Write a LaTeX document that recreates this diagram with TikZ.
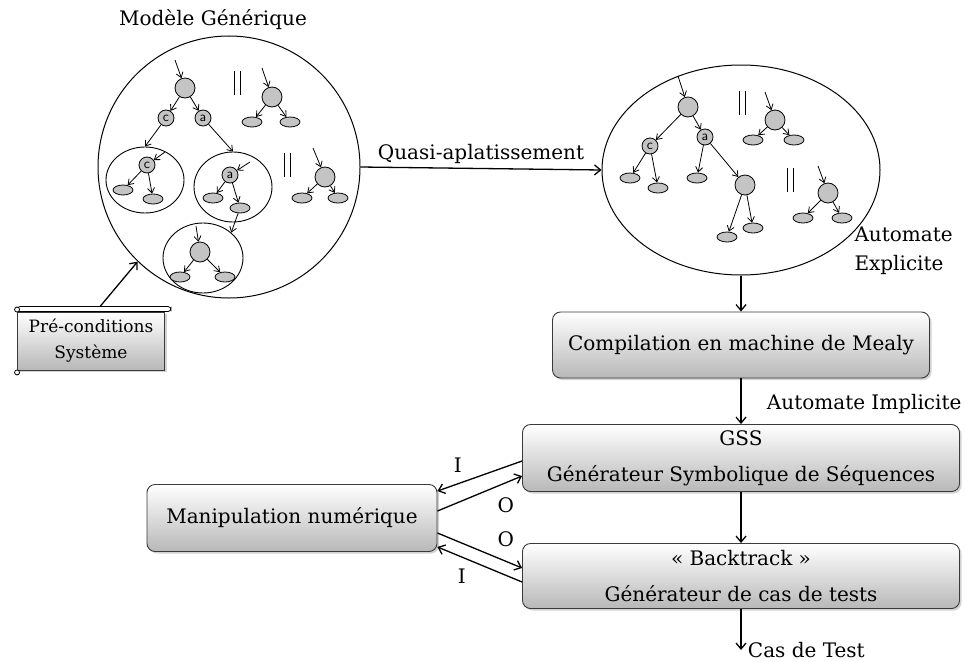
\documentclass[tikz,border=0pt]{standalone}
\usepackage{fontspec}
\setmainfont{DejaVu Serif}
\usetikzlibrary{arrows.meta, shapes.geometric, shadows, positioning}
\definecolor{StateGrey}{HTML}{C4C4C4}
\definecolor{BoxEdge}{HTML}{3A3A3A}
\definecolor{BoxLow}{HTML}{B8B8B8}
\tikzset{
  state/.style={
    circle, draw, line width=0.8pt, fill=StateGrey,
    inner sep=0pt, minimum size=20
  },
  letter/.style={
    circle, draw, line width=0.8pt, fill=StateGrey,
    inner sep=0pt, minimum size=16,
    font=\sffamily\fontsize{14}{14}\selectfont
  },
  leaf/.style={
    ellipse, draw, line width=0.8pt, fill=StateGrey,
    inner sep=0pt, minimum width=20, minimum height=10
  },
  sub/.style={
    ellipse, draw, line width=0.9pt, inner sep=0pt
  },
  tarrow/.style={
    line width=0.8pt, -{Straight Barb[length=5pt,width=7pt]}
  },
  flow/.style={
    line width=1.3pt, -{Straight Barb[length=6pt,width=10pt]}
  },
  stepbox/.style={
    rectangle, rounded corners=8pt, draw=BoxEdge, line width=0.9pt,
    top color=white, bottom color=BoxLow,
    drop shadow={opacity=0.35, shadow xshift=2pt, shadow yshift=-2pt},
    align=center, font=\fontsize{20}{36}\selectfont
  },
  label/.style={
    font=\fontsize{20}{29}\selectfont
  },
  par bars/.pic={
    \draw[line width=0.9pt] (-3,-12) -- (-3,12) (3,-12) -- (3,12);
  },
}

\begin{document}
\begin{tikzpicture}[x=1pt, y=-1pt]
  \useasboundingbox (0,0) rectangle (965,661);
  % generic model
  \node[circle, draw, line width=1pt, minimum size=262] (gen) at (229,167) {};
  \node[label] (gentitle) at (213,20) {Modèle Générique};
  \node[state] (g1) at (185,88) {};
  \coordinate (g1in) at (175,60);
  \node[letter] (gc) at (166,118) {c};
  \node[letter] (ga) at (203,118) {a};
  \draw[tarrow] (g1in) -- (g1);
  \draw[tarrow] (g1) -- (gc);
  \draw[tarrow] (g1) -- (ga);
  \pic at (237,83) {par bars};
  \node[state] (g2) at (272,97) {};
  \coordinate (g2in) at (262,68);
  \node[leaf] (g2l) at (252,122) {};
  \node[leaf] (g2r) at (290,122) {};
  \draw[tarrow] (g2in) -- (g2);
  \draw[tarrow] (g2) -- (g2l);
  \draw[tarrow] (g2) -- (g2r);
  % sub-model c
  \node[sub, minimum width=78, minimum height=66] (s1) at (145,180) {};
  \node[letter] (s1c) at (147,165) {c};
  \coordinate (s1in) at (165,152);
  \node[leaf] (s1l) at (123,190) {};
  \node[leaf] (s1r) at (153,199) {};
  \draw[tarrow] (gc) -- (s1.north);
  \draw[tarrow] (s1in) -- (s1c);
  \draw[tarrow] (s1c) -- (s1l);
  \draw[tarrow] (s1c) -- (s1r);
  % sub-model a
  \node[sub, minimum width=78, minimum height=70] (s2) at (233,187) {};
  \node[letter] (s2a) at (230,175) {a};
  \coordinate (s2in) at (250,162);
  \node[leaf] (s2l) at (213,198) {};
  \node[leaf] (s2r) at (240,208) {};
  \draw[tarrow] (ga) -- (s2.north);
  \draw[tarrow] (s2in) -- (s2a);
  \draw[tarrow] (s2a) -- (s2l);
  \draw[tarrow] (s2a) -- (s2r);
  % nested sub-model
  \node[sub, minimum width=80, minimum height=70] (s3) at (203,258) {};
  \node[state] (s3n) at (200,252) {};
  \coordinate (s3in) at (196,226);
  \node[leaf] (s3l) at (180,277) {};
  \node[leaf] (s3r) at (225,277) {};
  \draw[tarrow] (s2r) -- (s3.42);
  \draw[tarrow] (s3in) -- (s3n);
  \draw[tarrow] (s3n) -- (s3l);
  \draw[tarrow] (s3n) -- (s3r);
  \pic at (287,165) {par bars};
  \node[state] (g3) at (325,177) {};
  \coordinate (g3in) at (313,148);
  \node[leaf] (g3l) at (302,198) {};
  \node[leaf] (g3r) at (338,198) {};
  \draw[tarrow] (g3in) -- (g3);
  \draw[tarrow] (g3) -- (g3l);
  \draw[tarrow] (g3) -- (g3r);

  % explicit automaton
  \node[ellipse, draw, line width=1pt, minimum width=278, minimum height=210] (expl) at (741,170) {};
  \node[state] (r1) at (688,107) {};
  \coordinate (r1in) at (678,76);
  \node[letter] (rc) at (650,146) {c};
  \node[letter] (ra) at (705,137) {a};
  \node[leaf] (rcl) at (630,178) {};
  \node[leaf] (rcr) at (658,188) {};
  \node[leaf] (ral) at (697,178) {};
  \node[state] (rb) at (745,185) {};
  \node[leaf] (rbl) at (727,237) {};
  \node[leaf] (rbr) at (753,228) {};
  \draw[tarrow] (r1in) -- (r1);
  \draw[tarrow] (r1) -- (rc);
  \draw[tarrow] (r1) -- (ra);
  \draw[tarrow] (rc) -- (rcl);
  \draw[tarrow] (rc) -- (rcr);
  \draw[tarrow] (ra) -- (ral);
  \draw[tarrow] (ra) -- (rb);
  \draw[tarrow] (rb) -- (rbl);
  \draw[tarrow] (rb) -- (rbr);
  \pic at (742,103) {par bars};
  \node[state] (r2) at (775,120) {};
  \coordinate (r2in) at (765,92);
  \node[leaf] (r2l) at (753,140) {};
  \node[leaf] (r2r) at (794,140) {};
  \draw[tarrow] (r2in) -- (r2);
  \draw[tarrow] (r2) -- (r2l);
  \draw[tarrow] (r2) -- (r2r);
  \pic at (790,180) {par bars};
  \node[state] (r3) at (828,193) {};
  \coordinate (r3in) at (818,166);
  \node[leaf] (r3l) at (803,218) {};
  \node[leaf] (r3r) at (842,218) {};
  \draw[tarrow] (r3in) -- (r3);
  \draw[tarrow] (r3) -- (r3l);
  \draw[tarrow] (r3) -- (r3r);

  \draw[flow] (gen.east) -- node[label, above=1pt] {Quasi-aplatissement} (expl.west);
  \node[label, anchor=west, align=left] (explname) at (851,251) {Automate\\Explicite};

  % pre-conditions scroll
  \node[stepbox, rounded corners=0pt, minimum width=147, minimum height=58,
        font=\fontsize{17}{26}\selectfont] (precond) at (91,341) {Pré-conditions\\Système};
  \draw[line width=0.8pt, fill=white, rounded corners=3pt] ([yshift=5pt]precond.north west) rectangle ([xshift=6pt]precond.north east);
  \draw[line width=0.8pt, fill=white] ([yshift=2pt]precond.north west) circle (2.5pt);
  \draw[line width=0.8pt, fill=white] ([yshift=-2pt]precond.south west) circle (2.5pt);
  \draw[flow] ([xshift=9pt, yshift=5pt]precond.north) -- (gen.226);

  % processing chain
  \node[stepbox, minimum width=377, minimum height=66] (compile) at (741,345) {Compilation en machine de Mealy};
  \node[stepbox, minimum width=437, minimum height=67] (gss) at (741,458) {GSS\\Générateur Symbolique de Séquences};
  \node[stepbox, minimum width=437, minimum height=65] (backtrack) at (741,576) {« Backtrack »\\Générateur de cas de tests};
  \node[stepbox, minimum width=290, minimum height=67] (manip) at (292,518) {Manipulation numérique};
  \coordinate (tests) at (741,650);

  \draw[flow] (expl.south) -- (compile.north);
  \draw[flow] (compile.south) -- node[label, right=22pt, pos=0.55] {Automate Implicite} (gss.north);
  \draw[flow] (gss.south) -- (backtrack.north);
  \draw[flow] (backtrack.south) -- (tests) node[label, right=3pt] {Cas de Test};

  \draw[flow] ([yshift=-3pt]gss.west) -- node[label, above left=0pt and 14pt] {I} ([yshift=-7pt]manip.north east);
  \draw[flow] ([yshift=7pt]manip.east) -- node[label, below right=0pt and 14pt] {O} ([yshift=-18pt]gss.west);
  \draw[flow] ([yshift=-15pt]manip.east) -- node[label, above right=0pt and 14pt] {O} ([yshift=8pt]backtrack.west);
  \draw[flow] ([yshift=-6pt]backtrack.west) -- node[label, below left=0pt and 10pt] {I} ([yshift=5pt]manip.south east);
\end{tikzpicture}
\end{document}
